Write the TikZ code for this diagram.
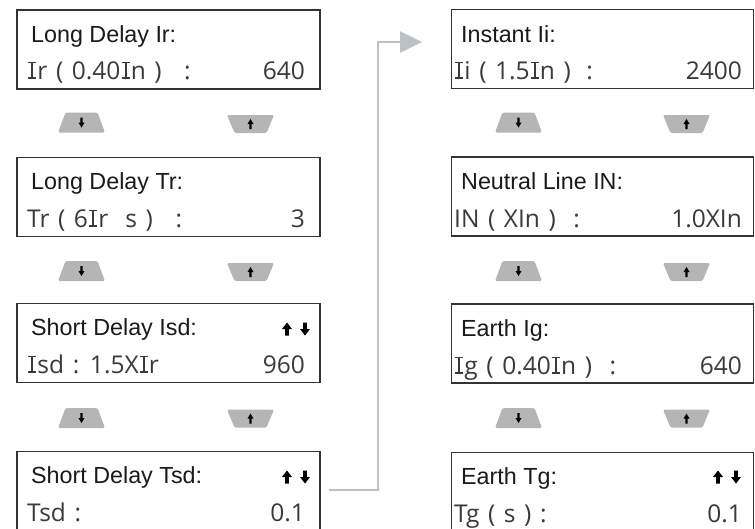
\documentclass[tikz,border=0pt]{standalone}
\usepackage{fontspec}
\setmainfont{Liberation Sans}
\newfontfamily\valfont{Open Sans}[WordSpace=1.35]
\usetikzlibrary{arrows.meta}
\definecolor{boxline}{HTML}{333333}
\definecolor{btn}{HTML}{B5B5B5}
\definecolor{conn}{HTML}{BCC1C6}
\definecolor{valtxt}{HTML}{3A3A3A}
\definecolor{ttltxt}{HTML}{1A1A1A}
% capital I with serifs, as the display font draws it
\newcommand\sI{\hbox{\kern0.05em\rlap{\rule{0.32em}{0.075em}}\rlap{\raisebox{0.639em}{\rule{0.32em}{0.075em}}}\kern0.12em\rule{0.08em}{0.714em}\kern0.17em}}
\begin{document}
\begin{tikzpicture}[x=1pt,y=-1pt,
  panel/.style={draw=boxline, line width=1.4pt, minimum width=303pt, minimum height=79pt, inner sep=0pt},
  title/.style={anchor=base west, inner sep=0pt, font=\fontsize{23.3}{23}\selectfont, text=ttltxt},
  val/.style={anchor=base west, inner sep=0pt, font=\valfont\fontsize{24.5}{24}\selectfont, text=valtxt},
  num/.style={val, anchor=base east},
  pics/bigdn/.style={code={\fill[black] (-1.8,-6.5) -- (1.8,-6.5) -- (1.8,0) -- (5,0) -- (0,6.5) -- (-5,0) -- (-1.8,0) -- cycle;}},
  pics/bigup/.style={code={\fill[black] (-1.8,6.5) -- (1.8,6.5) -- (1.8,0) -- (5,0) -- (0,-6.5) -- (-5,0) -- (-1.8,0) -- cycle;}},
  pics/dnbtn/.style={code={
    \fill[btn, rounded corners=1.5pt] (-16,-10) -- (16,-10) -- (23.5,10) -- (-23.5,10) -- cycle;
    \fill[black] (-1.1,-5) -- (1.1,-5) -- (1.1,0) -- (3,0) -- (0,5) -- (-3,0) -- (-1.1,0) -- cycle;}},
  pics/upbtn/.style={code={
    \fill[btn, rounded corners=1.5pt] (-23.5,-9) -- (23.5,-9) -- (16,9) -- (-16,9) -- cycle;
    \fill[black] (-1.1,5) -- (1.1,5) -- (1.1,0) -- (3,0) -- (0,-5) -- (-3,0) -- (-1.1,0) -- cycle;}},
  conn/.style={draw=conn, line width=2.5pt, line join=miter, -{Triangle[length=22pt,width=21pt]}}
]
\clip (0,0) rectangle (755,528);
\fill[white] (0,0) rectangle (755,528);

% left column panels
\node[panel] (L1) at (168.5,49.5) {};
\node[panel] (L2) at (168.5,197) {};
\node[panel] (L3) at (168.5,343) {};
\node[panel] (L4) at (168.5,491) {};
% right column panels
\node[panel, minimum width=302pt] (R1) at (602.5,49) {};
\node[panel, minimum width=302pt] (R2) at (602.5,196.5) {};
\node[panel, minimum width=302pt] (R3) at (602.5,343.5) {};
\node[panel, minimum width=302pt] (R4) at (602.5,492) {};

% left texts
\node[title] (L1a) at (31,42) {Long Delay Ir:};
\node[val] (L1b) at (27,79) {\sI r ( 0.40\sI n ) \hspace{14pt}:};
\node[num] (L1c) at (305,79) {640};
\node[title] (L2a) at (31,189) {Long Delay Tr:};
\node[val] (L2b) at (27,227) {Tr ( 6\sI r\ \ s ) \hspace{14pt}:};
\node[num] (L2c) at (305,227) {3};
\node[title] (L3a) at (31,335) {Short Delay Isd:};
\node[val] (L3b) at (27,373) {\sI sd : 1.5X\sI r};
\node[num] (L3c) at (305,373) {960};
\node[title] (L4a) at (31,483) {Short Delay Tsd:};
\node[val] (L4b) at (27,521) {Tsd :};
\node[num] (L4c) at (305,521) {0.1};

% right texts
\node[title] (R1a) at (461,42) {Instant Ii:};
\node[val] (R1b) at (454,79) {\sI i ( 1.5\sI n ) \hspace{7pt}:};
\node[num] (R1c) at (742,79) {2400};
\node[title] (R2a) at (461,189) {Neutral Line IN:};
\node[val] (R2b) at (454,227) {IN ( XIn ) \hspace{9pt}:};
\node[num] (R2c) at (742,227) {1.0XIn};
\node[title] (R3a) at (461,336) {Earth Ig:};
\node[val] (R3b) at (454,374) {\sI g ( 0.40\sI n ) \hspace{9pt}:};
\node[num] (R3c) at (742,374) {640};
\node[title] (R4a) at (461,484) {Earth Tg:};
\node[val] (R4b) at (454,522) {Tg ( s ) :};
\node[num] (R4c) at (742,522) {0.1};

% header arrows
\pic at (287,329) {bigup};
\pic at (305,329) {bigdn};
\pic at (287,477) {bigup};
\pic at (305,477) {bigdn};
\pic at (718,477) {bigup};
\pic at (736,477) {bigdn};

% buttons
\foreach \yy in {122.5,271,418}{
  \pic at (81.5,\yy) {dnbtn};
  \pic at (518.5,\yy) {dnbtn};
}
\foreach \yy in {124,272,418.5}{
  \pic at (250.5,\yy) {upbtn};
  \pic at (686.5,\yy) {upbtn};
}

% connector
\coordinate (cs) at (329,490);
\coordinate (bend) at (378,42);
\coordinate (ce) at (422,42);
\draw[conn] (cs) -| (bend) -- (ce);
\end{tikzpicture}
\end{document}
